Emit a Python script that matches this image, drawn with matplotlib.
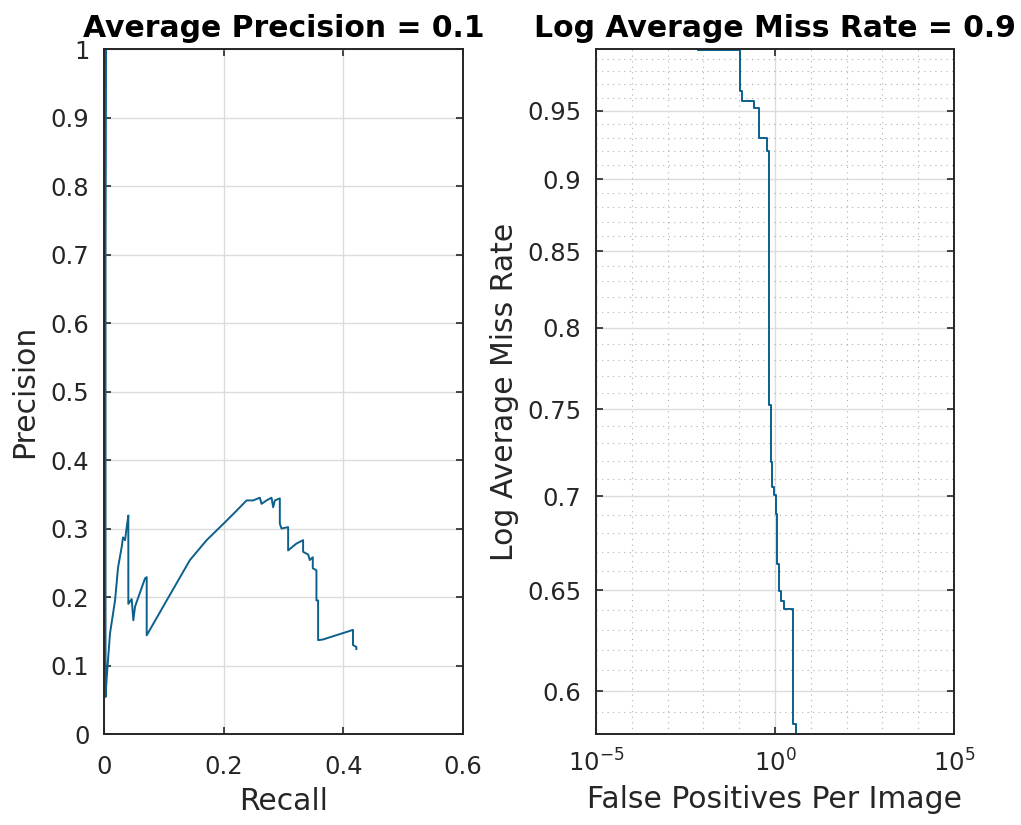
import numpy as np
import matplotlib
matplotlib.use('Agg')
import matplotlib.pyplot as plt
from matplotlib.ticker import FixedLocator, NullFormatter, FixedFormatter

# Precision / recall krivulja
recall = [0.0, 0.0, 0.0025, 0.0025, 0.0045, 0.010, 0.0184, 0.0234, 0.0295, 0.0317,
          0.0351, 0.0379, 0.0406, 0.0406, 0.0462, 0.0490, 0.0518, 0.0684, 0.0713,
          0.0713, 0.1047, 0.1436, 0.1715, 0.2020, 0.2215, 0.2382, 0.2493, 0.2604,
          0.2632, 0.2716, 0.2799, 0.2827, 0.2855, 0.2938, 0.2938, 0.2966, 0.3077,
          0.3077, 0.3216, 0.3327, 0.3327, 0.3411, 0.3439, 0.3489, 0.3489, 0.3550,
          0.3550, 0.3578, 0.3578, 0.3660, 0.4161, 0.4161, 0.4217, 0.4217]
precision = [1.0, 0.12, 1.0, 0.054, 0.083, 0.147, 0.195, 0.243, 0.273, 0.287,
             0.283, 0.302, 0.319, 0.190, 0.197, 0.166, 0.186, 0.227, 0.229,
             0.144, 0.195, 0.254, 0.283, 0.309, 0.326, 0.341, 0.341, 0.345,
             0.336, 0.341, 0.345, 0.331, 0.341, 0.344, 0.307, 0.300, 0.302,
             0.268, 0.278, 0.283, 0.266, 0.262, 0.254, 0.258, 0.242, 0.239,
             0.195, 0.195, 0.137, 0.138, 0.152, 0.130, 0.127, 0.124]

# Miss rate / FPPI (stepenasta kriva)
fppi = [0.00706, 0.105, 0.120, 0.259, 0.357, 0.598, 0.679, 0.773, 0.824, 0.938,
        1.067, 1.137, 1.294, 1.472, 1.783, 3.18, 3.86]
miss_rate = [0.997, 0.965, 0.9575, 0.9522, 0.930, 0.9205, 0.7527, 0.7195, 0.7055,
             0.701, 0.6906, 0.6634, 0.6494, 0.6443, 0.6402, 0.5847, 0.57]

ap = 0.1
lamr = 0.9

line_color = '#0d5f8c'
text_color = '#262626'

plt.rcParams['font.family'] = 'DejaVu Sans'
plt.rcParams['mathtext.default'] = 'regular'
fig = plt.figure(figsize=(10.21, 8.25), dpi=100)

def matlab_style(ax):
    for s in ax.spines.values():
        s.set_linewidth(1.4)
        s.set_color(text_color)
    ax.tick_params(which='major', direction='in', length=5, width=1.2,
                   colors=text_color, labelsize=17.5, top=True, right=True)
    ax.tick_params(which='minor', length=0)
    ax.tick_params(axis='x', pad=15)
    ax.tick_params(axis='y', pad=10.5)
    ax.set_axisbelow(True)

# Lijevi grafik
ax1 = fig.add_axes([0.1019, 0.1103, 0.3516, 0.8303])
ax1.plot(recall, precision, color=line_color, linewidth=1.4)
ax1.set_xlim(0, 0.6)
ax1.set_ylim(0, 1)
ax1.set_xticks([0, 0.2, 0.4, 0.6])
ax1.set_xticklabels(['0', '0.2', '0.4', '0.6'])
ax1.set_yticks(np.round(np.arange(0, 1.01, 0.1), 1))
ax1.set_yticklabels(['0', '0.1', '0.2', '0.3', '0.4', '0.5', '0.6', '0.7', '0.8', '0.9', '1'])
ax1.grid(True, color='#dcdcdc', linewidth=1)
matlab_style(ax1)
ax1.set_xlabel('Recall', fontsize=21.5, color=text_color, labelpad=6)
ax1.set_ylabel('Precision', fontsize=21.5, color=text_color, labelpad=8)
ax1.set_title('Average Precision = %.1f' % ap, fontsize=21.5, fontweight='bold', pad=8.5)

# Desni grafik
ax2 = fig.add_axes([0.5837, 0.1103, 0.3506, 0.8303])
ax2.step(fppi, miss_rate, where='post', color=line_color, linewidth=1.4)
ax2.set_xscale('log')
ax2.set_yscale('log')
ax2.set_xlim(1e-5, 1e5)
ax2.set_ylim(0.58, 0.9976)
ax2.xaxis.set_major_locator(FixedLocator([1e-5, 1e0, 1e5]))
ax2.xaxis.set_major_formatter(FixedFormatter(['$10^{-5}$', '$10^{0}$', '$10^{5}$']))
ax2.xaxis.set_minor_locator(FixedLocator([10.0 ** k for k in range(-4, 5) if k != 0]))
ax2.xaxis.set_minor_formatter(NullFormatter())
yt = [0.6, 0.65, 0.7, 0.75, 0.8, 0.85, 0.9, 0.95]
ax2.yaxis.set_major_locator(FixedLocator(yt))
ax2.yaxis.set_major_formatter(FixedFormatter(['0.6', '0.65', '0.7', '0.75', '0.8', '0.85', '0.9', '0.95']))
ax2.yaxis.set_minor_locator(FixedLocator([round(0.58 + 0.01 * i, 2) for i in range(42)]))
ax2.yaxis.set_minor_formatter(NullFormatter())
ax2.grid(True, which='major', color='#dcdcdc', linewidth=1)
ax2.grid(True, which='minor', color='#b0b0b0', linewidth=0.8, linestyle=(0, (1, 4)))
matlab_style(ax2)
ax2.tick_params(axis='x', pad=11)
ax2.set_xlabel('False Positives Per Image', fontsize=21.5, color=text_color, labelpad=6)
ax2.set_ylabel('Log Average Miss Rate', fontsize=21.5, color=text_color, labelpad=6)
ax2.set_title('Log Average Miss Rate = %.1f' % lamr, fontsize=21.5, fontweight='bold', pad=8.5)

fig.savefig('out.png', dpi=100)
